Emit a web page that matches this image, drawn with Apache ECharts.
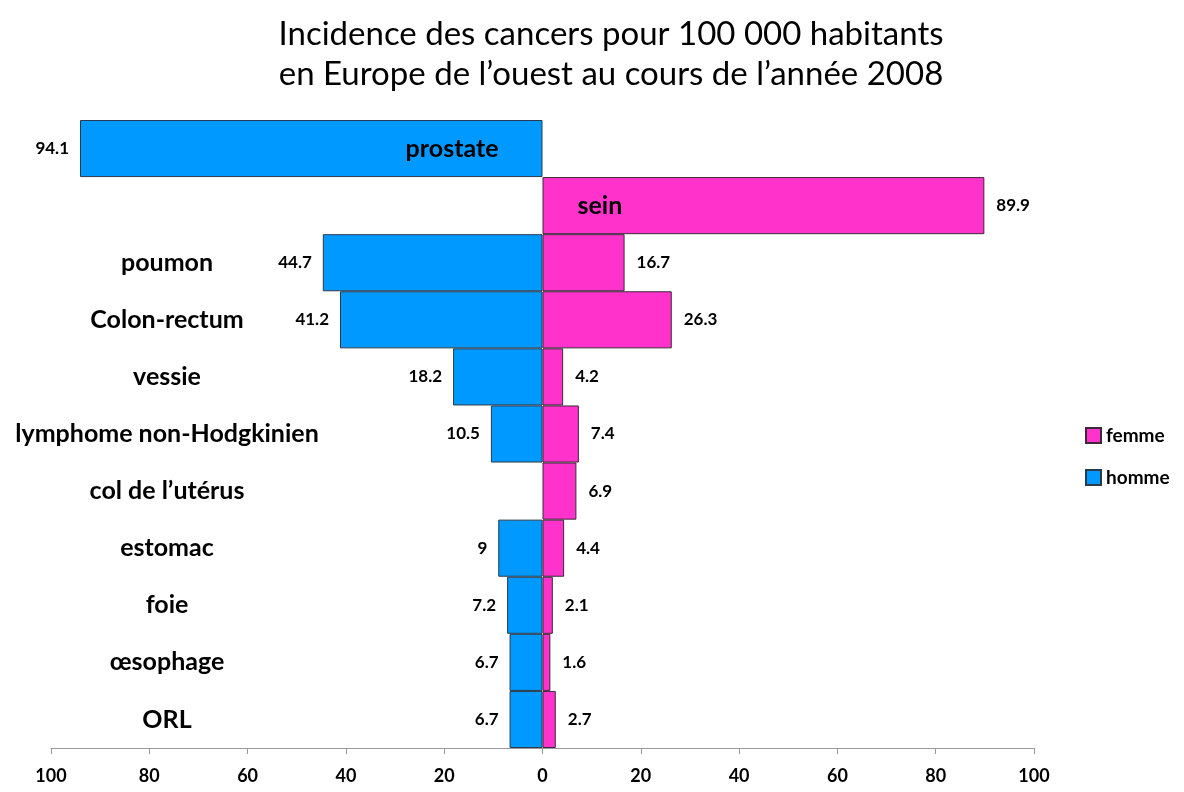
<!DOCTYPE html>
<html>
<head>
<meta charset="utf-8">
<script src="https://cdn.jsdelivr.net/npm/echarts@6/dist/echarts.min.js"></script>
<style>
  html, body { margin: 0; padding: 0; background: #fff; }
  #chart { width: 1184px; height: 792px; }
</style>
</head>
<body>
<div id="chart"></div>
<script>
// categories, top to bottom
const categories = ['prostate', 'sein', 'poumon', 'Colon-rectum', 'vessie', 'lymphome non-Hodgkinien',
  'col de l’utérus', 'estomac', 'foie', 'œsophage', 'ORL'];
const homme = [94.1, null, 44.7, 41.2, 18.2, 10.5, null, 9, 7.2, 6.7, 6.7];
const femme = [null, 89.9, 16.7, 26.3, 4.2, 7.4, 6.9, 4.4, 2.1, 1.6, 2.7];
// categories whose name sits inside the bar
const insideNames = ['prostate', 'sein'];

const font = 'Lato, "Open Sans", sans-serif';
const chart = echarts.init(document.getElementById('chart'));

const nameData = categories.map((c, i) => {
  if (insideNames.indexOf(c) < 0) return null;
  if (homme[i] != null) {
    return { value: -homme[i], label: { position: 'insideRight', distance: 44 } };
  }
  return { value: femme[i], label: { position: 'insideLeft', distance: 35 } };
});

chart.setOption({
  animation: false,
  title: {
    text: 'Incidence des cancers pour 100 000 habitants\nen Europe de l’ouest au cours de l’année 2008',
    left: 606,
    textAlign: 'center',
    top: 9,
    textStyle: { fontFamily: font, fontWeight: 'normal', fontSize: 33, lineHeight: 40, color: '#000' }
  },
  legend: {
    data: ['femme', 'homme'],
    orient: 'vertical',
    left: 1080,
    top: 421,
    icon: 'rect',
    itemWidth: 15,
    itemHeight: 15,
    itemGap: 23,
    textStyle: { fontFamily: font, fontWeight: 'bold', fontSize: 19, color: '#000' }
  },
  grid: { left: 51, right: 150, top: 120, bottom: 44 },
  xAxis: {
    type: 'value',
    min: -100,
    max: 100,
    interval: 20,
    splitLine: { show: false },
    axisLine: { show: true, onZero: false, lineStyle: { color: '#999' } },
    axisTick: { show: true, length: 6, lineStyle: { color: '#999' } },
    axisLabel: {
      margin: 19,
      fontFamily: font,
      fontWeight: 'bold',
      fontSize: 18,
      color: '#000',
      formatter: v => String(Math.abs(v))
    }
  },
  yAxis: {
    type: 'category',
    data: categories,
    inverse: true,
    axisLine: { show: false, onZero: false },
    axisTick: { show: false },
    axisLabel: {
      align: 'center',
      margin: -116,
      fontFamily: font,
      fontWeight: 'bold',
      fontSize: 25,
      color: '#000',
      formatter: v => insideNames.indexOf(v) >= 0 ? '' : v
    }
  },
  series: [
    {
      name: 'homme',
      type: 'bar',
      stack: 'total',
      barCategoryGap: 0,
      barGap: '-100%',
      data: homme.map(v => v == null ? null : -v),
      itemStyle: { color: '#0099FF', borderColor: '#2a3a4a', borderWidth: 1 },
      label: {
        show: true,
        position: 'left',
        distance: 11,
        fontFamily: font,
        fontWeight: 'bold',
        fontSize: 17,
        color: '#000',
        formatter: p => String(Math.abs(p.value))
      }
    },
    {
      name: 'femme',
      type: 'bar',
      stack: 'total',
      barCategoryGap: 0,
      barGap: '-100%',
      data: femme,
      itemStyle: { color: '#FF33CC', borderColor: '#3a2a3a', borderWidth: 1 },
      label: {
        show: true,
        position: 'right',
        distance: 12,
        fontFamily: font,
        fontWeight: 'bold',
        fontSize: 17,
        color: '#000'
      }
    },
    {
      name: 'names',
      type: 'bar',
      barCategoryGap: 0,
      barGap: '-100%',
      data: nameData,
      silent: true,
      itemStyle: { color: 'rgba(0,0,0,0)' },
      label: {
        show: true,
        fontFamily: font,
        fontWeight: 'bold',
        fontSize: 25,
        color: '#000',
        formatter: p => p.name
      }
    }
  ]
});
</script>
</body>
</html>
